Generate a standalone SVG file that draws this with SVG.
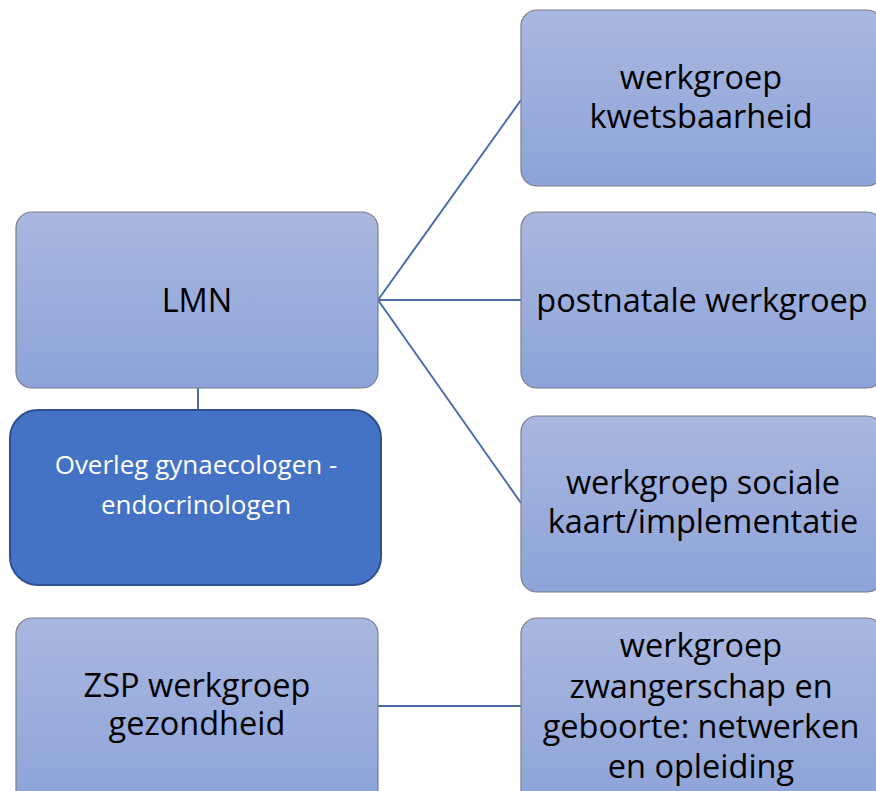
<svg xmlns="http://www.w3.org/2000/svg" width="876" height="791" viewBox="0 0 876 791">
<defs>
<linearGradient id="g" x1="0" y1="0" x2="0" y2="1">
<stop offset="0" stop-color="#A9B7E0"/>
<stop offset="1" stop-color="#8DA3D8"/>
</linearGradient>
<style>
.n{fill:url(#g);stroke:#7A7F8C;stroke-width:1.2}
.t{font-family:"Open Sans","Noto Sans",sans-serif;font-size:32.5px;fill:#000;text-anchor:middle}
.w{font-family:"Open Sans","Noto Sans",sans-serif;font-size:26px;fill:#fff;text-anchor:middle}
.c{stroke:#4A6BAE;stroke-width:2;fill:none}
</style>
</defs>
<rect width="876" height="791" fill="#fff"/>
<g id="connectors">
<line class="c" x1="378" y1="300" x2="521" y2="100"/>
<line class="c" x1="378" y1="300" x2="521" y2="300"/>
<line class="c" x1="378" y1="300" x2="521" y2="503"/>
<line class="c" x1="198" y1="388" x2="198" y2="410"/>
<line class="c" x1="378" y1="706" x2="521" y2="706"/>
</g>
<g id="lmn">
<rect class="n" x="16" y="212" width="362" height="176" rx="16"/>
<text class="t" x="197" y="312">LMN</text>
</g>
<g id="overleg">
<rect x="10" y="410" width="371" height="175" rx="28" fill="#4472C4" stroke="#2F528F" stroke-width="2"/>
<text class="w" x="196" y="474">Overleg gynaecologen -</text>
<text class="w" x="196" y="514">endocrinologen</text>
</g>
<g id="kwets">
<rect class="n" x="521" y="10" width="362" height="176" rx="16"/>
<text class="t" x="701" y="89">werkgroep</text>
<text class="t" x="701" y="128">kwetsbaarheid</text>
</g>
<g id="postnatale">
<rect class="n" x="521" y="212" width="362" height="176" rx="16"/>
<text class="t" x="702" y="312">postnatale werkgroep</text>
</g>
<g id="sociale">
<rect class="n" x="521" y="416" width="362" height="176" rx="16"/>
<text class="t" x="703" y="494">werkgroep sociale</text>
<text class="t" x="703" y="533">kaart/implementatie</text>
</g>
<g id="zsp">
<rect class="n" x="16" y="618" width="362" height="190" rx="16"/>
<text class="t" x="197" y="697">ZSP werkgroep</text>
<text class="t" x="197" y="735">gezondheid</text>
</g>
<g id="zwanger">
<rect class="n" x="521" y="618" width="362" height="190" rx="16"/>
<text class="t" x="701" y="657">werkgroep</text>
<text class="t" x="701" y="698">zwangerschap en</text>
<text class="t" x="701" y="738">geboorte: netwerken</text>
<text class="t" x="701" y="778">en opleiding</text>
</g>
</svg>
